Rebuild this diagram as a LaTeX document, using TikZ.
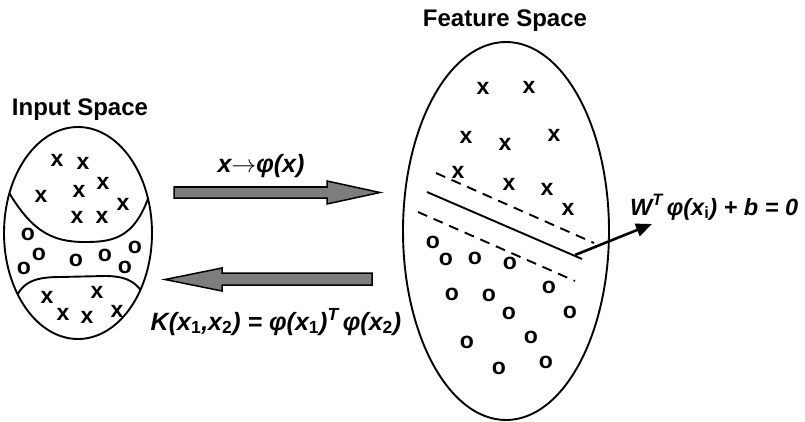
\documentclass[tikz,border=0pt]{standalone}
\usepackage{fontspec}
\setmainfont{Liberation Sans}
\usetikzlibrary{arrows.meta}
\definecolor{arrowgray}{RGB}{125,125,125}
\begin{document}
\begin{tikzpicture}[x=1pt,y=-1pt,
  outline/.style={line width=1.9pt},
  symb/.style={font=\fontsize{23}{23}\selectfont\bfseries, inner sep=0pt},
  titletext/.style={font=\fontsize{24}{28}\selectfont\bfseries, anchor=base, inner sep=0pt},
  lbl/.style={font=\fontsize{25}{28}\selectfont\bfseries\itshape, anchor=base, inner sep=0pt},
  bigarrow/.style={fill=arrowgray, draw=black, line width=1.5pt, line join=miter},
  sepline/.style={line width=1.9pt},
  margin/.style={line width=1.9pt, dash pattern=on 10pt off 7pt},
  normalarrow/.style={line width=2.6pt, -{Triangle[length=16pt,width=13pt]}}
]
\useasboundingbox (0,0) rectangle (805,422);

% titles
\node[titletext] (tin) at (80,116) {Input Space};
\node[titletext] (tfeat) at (505,27) {Feature Space};

% input space
\draw[outline] (78,233) ellipse [x radius=74, y radius=106];
\begin{scope}
  \clip (78,233) ellipse [x radius=74, y radius=106];
  \draw[outline] (3,182) .. controls (30,232) and (52,242) .. (85,242)
                 .. controls (115,242) and (138,238) .. (153,183);
  \draw[outline] (12,310) .. controls (18,283) and (32,277) .. (60,277)
                 -- (105,276) .. controls (130,276) and (142,284) .. (150,310);
\end{scope}

\foreach \px/\py [count=\i] in {57/160,83/163,103/183,41/196,79/191,123/204,77/217,102/217,
                               47/297,97/292,63/314,87/317,117/311}
  \node[symb] (lx\i) at (\px,\py) {x};
\foreach \px/\py [count=\i] in {28/234,39/254,24/268,76/260,105/255,135/247,125/267}
  \node[symb] (lo\i) at (\px,\py) {o};

% feature space
\draw[outline] (506,231) ellipse [x radius=103, y radius=189];
\foreach \px/\py [count=\i] in {483/88,529/87,466/137,505/144,554/135,458/172,509/184,547/189,568/209}
  \node[symb] (fx\i) at (\px,\py) {x};
\foreach \px/\py [count=\i] in {433/242,446/259,475/258,510/263,549/287,452/294,489/295,509/313,
                               570/312,531/337,467/342,546/362,499/368}
  \node[symb] (fo\i) at (\px,\py) {o};

\coordinate (sepA) at (427,192);
\coordinate (sepB) at (582,259);
\draw[sepline] (sepA) -- (sepB);
\coordinate (dupA) at (436,173);
\coordinate (dupB) at (594,243);
\draw[margin] (dupA) -- (dupB);
\coordinate (dloA) at (418,212);
\coordinate (dloB) at (575,281);
\draw[margin] (dloA) -- (dloB);

% normal vector and hyperplane label
\node[lbl, font=\fontsize{23.5}{28}\selectfont\bfseries\itshape, anchor=base west] (wlab) at (630,215)
  {W\textsuperscript{T}\,φ(x\textsubscript{\upshape i}) + b = 0};
\coordinate (nstart) at (575,255);
\coordinate (ntip) at (652,224);
\draw[normalarrow] (nstart) -- (ntip);

% mapping arrows
\draw[bigarrow] (174,187) -- (327,187) -- (327,181) -- (380,192.5) -- (327,204) -- (327,198) -- (174,198) -- cycle;
\node[lbl] (maplab) at (261,172) {x$\rightarrow$φ(x)};

\draw[bigarrow] (372,273) -- (222,273) -- (222,268) -- (165,279.5) -- (222,291) -- (222,285) -- (372,285) -- cycle;
\node[lbl] (kernlab) at (276,330)
  {K(x\textsubscript{\upshape 1},x\textsubscript{\upshape 2}) = φ(x\textsubscript{\upshape 1})\textsuperscript{T}\,φ(x\textsubscript{\upshape 2})};
\end{tikzpicture}
\end{document}
